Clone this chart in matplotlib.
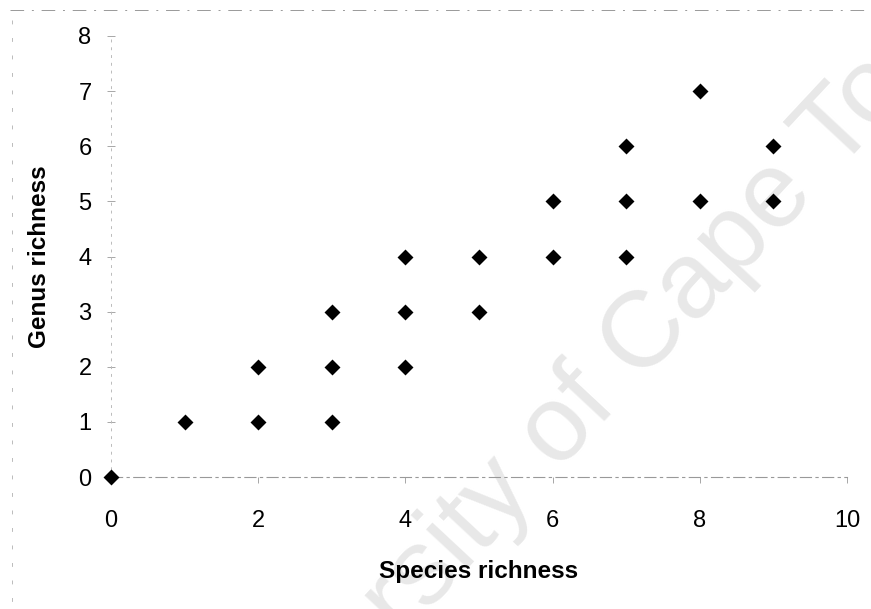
import matplotlib
matplotlib.use("Agg")
import matplotlib.pyplot as plt
from matplotlib.lines import Line2D

plt.rcParams['font.family'] = ['Liberation Sans', 'DejaVu Sans']

species = [0, 1, 2, 2, 3, 3, 3, 4, 4, 4, 5, 5, 6, 6, 7, 7, 7, 8, 8, 9, 9]
genus   = [0, 1, 1, 2, 1, 2, 3, 2, 3, 4, 3, 4, 4, 5, 4, 5, 6, 5, 7, 5, 6]
xticks = [0, 2, 4, 6, 8, 10]
yticks = [0, 1, 2, 3, 4, 5, 6, 7, 8]

W, H = 871, 609
fig = plt.figure(figsize=(W / 100, H / 100), dpi=100)
fig.patch.set_facecolor('white')

x0, x1 = 111, 847
y0, y1 = 477, 36
ax = fig.add_axes([x0 / W, 1 - y0 / H, (x1 - x0) / W, (y0 - y1) / H])
ax.patch.set_visible(False)

# watermark
fig.text(590 / W, 1 - 396 / H, "University of Cape Town", fontsize=78,
         color='#e8e8e8', rotation=47, rotation_mode='anchor',
         ha='center', va='center', zorder=-1)

ax.scatter(species, genus, marker='D', s=66, color='black', zorder=5,
           clip_on=False, linewidths=0)

ax.set_xlim(0, 10)
ax.set_ylim(0, 8)
ax.set_xticks(xticks)
ax.set_yticks(yticks)
ax.tick_params(axis='x', direction='out', length=4, width=0.6, color='#999999',
               labelsize=17, pad=20)
ax.tick_params(axis='y', direction='inout', length=6, width=0.6, color='#999999',
               labelsize=17, pad=11)

for s in ['top', 'right']:
    ax.spines[s].set_visible(False)
ax.spines['left'].set_color('#bbbbbb')
ax.spines['left'].set_linestyle((0, (2, 6)))
ax.spines['left'].set_linewidth(0.7)
ax.spines['bottom'].set_color('#999999')
ax.spines['bottom'].set_linestyle((0, (10, 4, 2, 4)))
ax.spines['bottom'].set_linewidth(0.8)

ax.set_xlabel("Species richness", fontsize=17.5, fontweight='bold', labelpad=20)
ax.set_ylabel("Genus richness", fontsize=17.5, fontweight='bold', labelpad=20)

# scan artefact borders
fig.add_artist(Line2D([10 / W, 1], [1 - 10 / H, 1 - 10 / H], color='#999999',
                      lw=0.7, ls=(0, (14, 8, 2, 8))))
fig.add_artist(Line2D([12 / W, 12 / W], [1 - 20 / H, 0], color='#bbbbbb',
                      lw=0.7, ls=(0, (4, 14))))

fig.savefig("out.png", dpi=100, facecolor='white')
